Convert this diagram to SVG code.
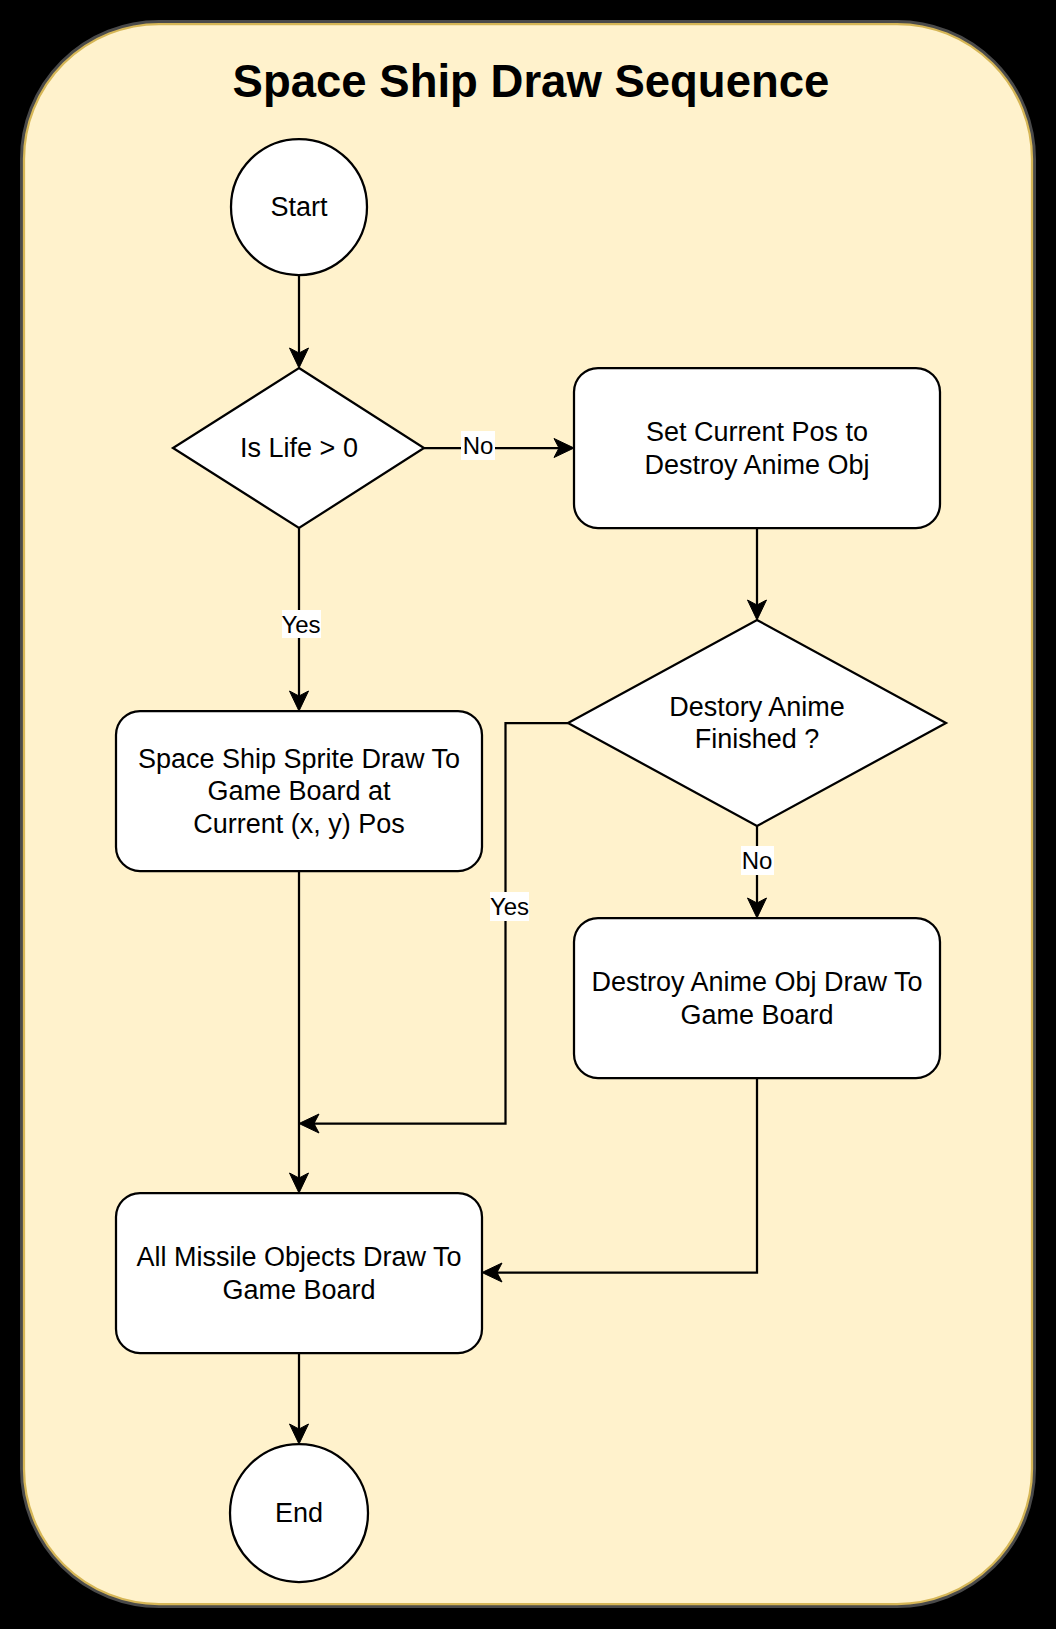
<svg xmlns="http://www.w3.org/2000/svg" width="1056" height="1629" viewBox="0 0 1056 1629">
<style>
  text { font-family: "Liberation Sans", Arial, Helvetica, sans-serif; fill: #000; text-anchor: middle; }
  .node { fill: #ffffff; stroke: #000; stroke-width: 2.25; }
  .t { font-size: 27px; }
  .lbl { font-size: 24px; }
  .edge { fill: none; stroke: #000; stroke-width: 2.25; marker-end: url(#arr); }
  .lblbg { fill: #ffffff; stroke: none; }
</style>
<defs>
  <marker id="arr" viewBox="-22 -11 24 22" refX="-10" refY="0" markerUnits="userSpaceOnUse" markerWidth="24" markerHeight="22" orient="auto">
    <path d="M0,0 L-20,-9.5 L-15,0 L-20,9.5 Z" fill="#000" stroke="#000" stroke-width="1" stroke-linejoin="miter"/>
  </marker>
</defs>
<rect x="0" y="0" width="1056" height="1629" fill="#000"/>
<g id="container">
  <rect x="24" y="24" width="1008" height="1580" rx="135" ry="135" fill="none" stroke="#4a4a4a" stroke-width="8"/>
  <rect x="24" y="24" width="1008" height="1580" rx="135" ry="135" fill="#fff2cc" stroke="#d6b656" stroke-width="2.25"/>
  <text x="531" y="97" style="font-size:45.5px;font-weight:bold;">Space Ship Draw Sequence</text>
</g>
<g id="connectors">
  <line class="edge" x1="299" y1="276" x2="299" y2="358"/>
  <line class="edge" x1="424" y1="448" x2="564" y2="448"/>
  <line class="edge" x1="299" y1="528" x2="299" y2="701"/>
  <line class="edge" x1="757" y1="528" x2="757" y2="610"/>
  <line class="edge" x1="757" y1="826" x2="757" y2="908"/>
  <path class="edge" d="M568,723 H505.5 V1123.5 H309"/>
  <line class="edge" x1="299" y1="871" x2="299" y2="1183"/>
  <path class="edge" d="M757,1078 V1272.5 H492"/>
  <line class="edge" x1="299" y1="1353" x2="299" y2="1434"/>
  <g id="label-no-1">
    <rect class="lblbg" x="461" y="431" width="34" height="29"/>
    <text class="lbl" x="478" y="454">No</text>
  </g>
  <g id="label-yes-1">
    <rect class="lblbg" x="282" y="610" width="39" height="28"/>
    <text class="lbl" x="301" y="632.5">Yes</text>
  </g>
  <g id="label-no-2">
    <rect class="lblbg" x="741" y="846" width="33" height="29"/>
    <text class="lbl" x="757" y="869">No</text>
  </g>
  <g id="label-yes-2">
    <rect class="lblbg" x="490" y="892" width="39" height="29"/>
    <text class="lbl" x="509.5" y="915">Yes</text>
  </g>
</g>
<g id="start">
  <circle class="node" cx="299" cy="207" r="68"/>
  <text class="t" x="299" y="216.4">Start</text>
</g>
<g id="is-life">
  <polygon class="node" points="299,368 424,448 299,528 173,448"/>
  <text class="t" x="299" y="457.4">Is Life &gt; 0</text>
</g>
<g id="set-current-pos">
  <rect class="node" x="574" y="368" width="366" height="160" rx="24" ry="24"/>
  <text class="t" x="757" y="441.2">Set Current Pos to</text>
  <text class="t" x="757" y="473.6">Destroy Anime Obj</text>
</g>
<g id="space-ship-draw">
  <rect class="node" x="116" y="711" width="366" height="160" rx="24" ry="24"/>
  <text class="t" x="299" y="768">Space Ship Sprite Draw To</text>
  <text class="t" x="299" y="800.4">Game Board at</text>
  <text class="t" x="299" y="832.8">Current (x, y) Pos</text>
</g>
<g id="destroy-finished">
  <polygon class="node" points="757,620 946,723 757,826 568,723"/>
  <text class="t" x="757" y="715.5">Destory Anime</text>
  <text class="t" x="757" y="747.9">Finished ?</text>
</g>
<g id="destroy-draw">
  <rect class="node" x="574" y="918" width="366" height="160" rx="24" ry="24"/>
  <text class="t" x="757" y="991.2">Destroy Anime Obj Draw To</text>
  <text class="t" x="757" y="1023.6">Game Board</text>
</g>
<g id="missiles-draw">
  <rect class="node" x="116" y="1193" width="366" height="160" rx="24" ry="24"/>
  <text class="t" x="299" y="1266.2">All Missile Objects Draw To</text>
  <text class="t" x="299" y="1298.6">Game Board</text>
</g>
<g id="end">
  <circle class="node" cx="299" cy="1513" r="69"/>
  <text class="t" x="299" y="1522.4">End</text>
</g>
</svg>
